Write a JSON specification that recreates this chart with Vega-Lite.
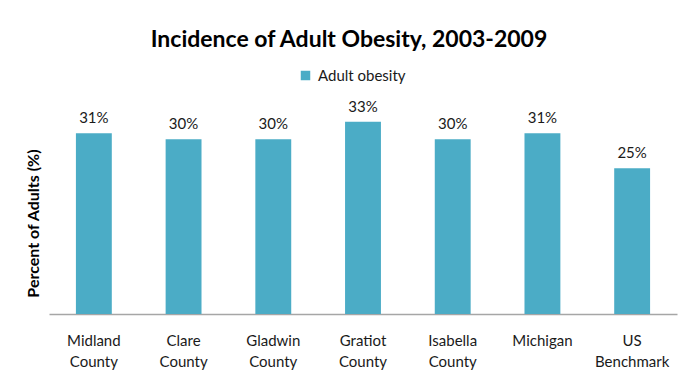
{
  "$schema": "https://vega.github.io/schema/vega-lite/v6.json",
  "width": 628,
  "height": 204,
  "autosize": {"type": "none"},
  "padding": {"left": 49, "top": 110, "right": 13, "bottom": 58},
  "background": "white",
  "title": {
    "text": "Incidence of Adult Obesity, 2003-2009",
    "font": "Lato",
    "fontSize": 23,
    "fontWeight": "bold",
    "color": "#000000",
    "anchor": "middle",
    "dx": -14,
    "offset": 16
  },
  "data": {
    "values": [
      {"area": "Midland County", "value": 0.31, "series": "Adult obesity"},
      {"area": "Clare County", "value": 0.30, "series": "Adult obesity"},
      {"area": "Gladwin County", "value": 0.30, "series": "Adult obesity"},
      {"area": "Gratiot County", "value": 0.33, "series": "Adult obesity"},
      {"area": "Isabella County", "value": 0.30, "series": "Adult obesity"},
      {"area": "Michigan", "value": 0.31, "series": "Adult obesity"},
      {"area": "US Benchmark", "value": 0.25, "series": "Adult obesity"}
    ]
  },
  "encoding": {
    "x": {
      "field": "area",
      "type": "nominal",
      "sort": null,
      "scale": {"paddingInner": 0.6, "paddingOuter": 0.3},
      "axis": {
        "title": null,
        "labelAngle": 0,
        "labelExpr": "split(datum.label, ' ')",
        "labelFont": "Lato",
        "labelFontSize": 15,
        "labelColor": "#1a1a1a",
        "labelLineHeight": 21,
        "labelPadding": 19,
        "ticks": false,
        "domainColor": "#a6a6a6",
        "domainWidth": 1.5
      }
    },
    "y": {
      "field": "value",
      "type": "quantitative",
      "scale": {"domain": [0, 0.35]},
      "axis": {
        "title": "Percent of Adults (%)",
        "titleFont": "Lato",
        "titleFontSize": 16,
        "titleFontWeight": "bold",
        "titleColor": "#000000",
        "titleX": -8,
        "titleY": 113,
        "labels": false,
        "ticks": false,
        "domain": false,
        "grid": false
      }
    }
  },
  "layer": [
    {
      "mark": {"type": "bar", "color": "#4BACC6"},
      "encoding": {
        "color": {
          "field": "series",
          "type": "nominal",
          "scale": {"range": ["#4BACC6"]},
          "legend": {
            "title": null,
            "orient": "none",
            "legendX": 249,
            "legendY": -42,
            "symbolType": "square",
            "symbolSize": 90,
            "symbolStrokeWidth": 0,
            "labelFont": "Lato",
            "labelFontSize": 15,
            "labelColor": "#1a1a1a",
            "labelOffset": 5
          }
        }
      }
    },
    {
      "mark": {"type": "text", "baseline": "alphabetic", "dy": -10, "font": "Lato", "fontSize": 15, "color": "#1a1a1a"},
      "encoding": {
        "text": {"field": "value", "type": "quantitative", "format": ".0%"}
      }
    }
  ],
  "config": {"view": {"stroke": null}}
}
